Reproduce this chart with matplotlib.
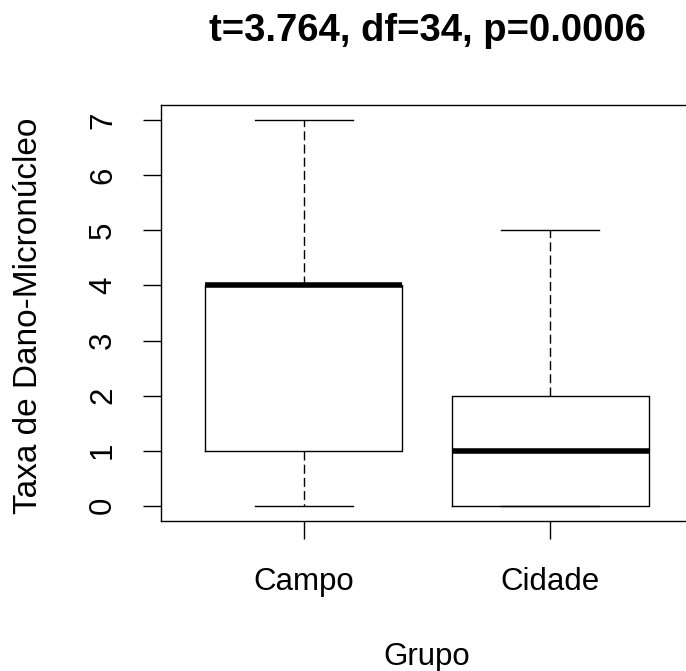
import matplotlib
matplotlib.use("Agg")
import matplotlib.pyplot as plt

plt.rcParams['font.family'] = ['Liberation Sans', 'DejaVu Sans']

grupos = ['Campo', 'Cidade']
minimo = [0, 0]
q1 = [1, 0]
mediana = [4, 1]
q3 = [4, 2]
maximo = [7, 5]
yticks = [0, 1, 2, 3, 4, 5, 6, 7]

stats = []
for i in range(len(grupos)):
    stats.append({'label': grupos[i], 'whislo': minimo[i], 'q1': q1[i],
                  'med': mediana[i], 'q3': q3[i], 'whishi': maximo[i]})

fig = plt.figure(figsize=(6.86, 6.71), dpi=100)
ax = fig.add_axes([161/686, 1-521/671, 532/686, 416/671])

ax.bxp(stats, positions=[1, 2], widths=0.8, showfliers=False,
       boxprops=dict(color='black', linewidth=1.0),
       medianprops=dict(color='black', linewidth=4.0, solid_capstyle='butt'),
       whiskerprops=dict(color='black', linewidth=1.0, linestyle=(0, (6.5, 3))),
       capprops=dict(color='black', linewidth=1.0), capwidths=0.4)

ax.set_xlim(0.42, 2.58)
ax.set_ylim(-0.28, 7.28)
ax.set_yticks(yticks)
ax.set_xticks([1, 2])
ax.set_xticklabels(grupos)
for s in ax.spines.values():
    s.set_linewidth(1.0)

ax.tick_params(axis='both', length=13, width=1.0, labelsize=22.5)
ax.tick_params(axis='x', pad=20)
ax.tick_params(axis='y', pad=18)
for lab in ax.get_yticklabels():
    lab.set_rotation(90)
    lab.set_va('center')

ax.set_ylabel('Taxa de Dano-Micronúcleo', fontsize=24)
ax.yaxis.label.set_va('center')
ax.yaxis.set_label_coords((28-161)/532, (521-316)/416)
ax.set_xlabel('Grupo', fontsize=22.5)
ax.xaxis.label.set_va('center')
ax.xaxis.set_label_coords((427-161)/532, (521-657)/416)

ax.set_title('t=3.764, df=34, p=0.0006', fontsize=27.5, fontweight='bold',
             y=(521-41)/416, pad=0)

plt.savefig('out.png', dpi=100)
